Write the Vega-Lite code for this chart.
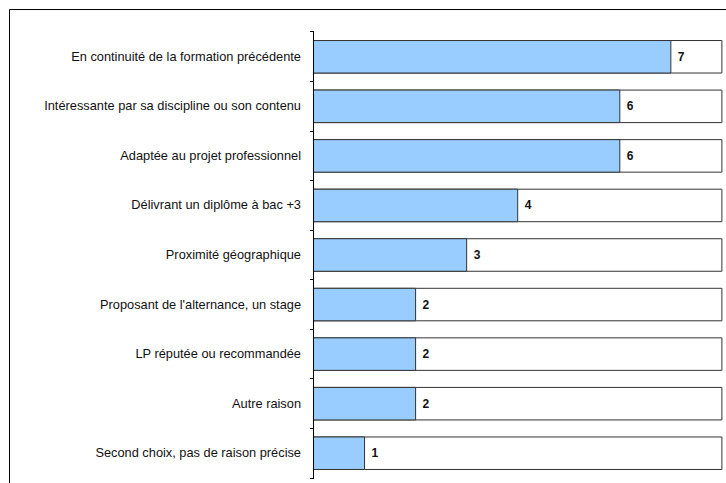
{
  "$schema": "https://vega.github.io/schema/vega-lite/v6.json",
  "width": 730,
  "height": 492,
  "autosize": {"type": "none"},
  "padding": {"left": 9, "top": 9, "right": 0, "bottom": 0},
  "background": "white",
  "config": {"view": {"stroke": "#000", "strokeWidth": 1}, "font": "Liberation Sans"},
  "data": {"values": [
    {"raison": "En continuité de la formation précédente", "value": 7},
    {"raison": "Intéressante par sa discipline ou son contenu", "value": 6},
    {"raison": "Adaptée au projet professionnel", "value": 6},
    {"raison": "Délivrant un diplôme à bac +3", "value": 4},
    {"raison": "Proximité géographique", "value": 3},
    {"raison": "Proposant de l'alternance, un stage", "value": 2},
    {"raison": "LP réputée ou recommandée", "value": 2},
    {"raison": "Autre raison", "value": 2},
    {"raison": "Second choix, pas de raison précise", "value": 1}
  ]},
  "encoding": {
    "y": {
      "field": "raison", "type": "nominal", "sort": null,
      "scale": {"paddingInner": 0, "paddingOuter": 0.464},
      "axis": {
        "title": null, "orient": "left", "offset": -304.5, "domain": false,
        "ticks": true, "bandPosition": 1, "tickExtra": true, "tickSize": 4,
        "tickColor": "#000", "labelPadding": 9, "labelFontSize": 12.8,
        "labelColor": "#111", "labelFont": "Liberation Sans", "labelLimit": 400, "grid": false
      }
    }
  },
  "layer": [
    {
      "mark": {"type": "bar", "fill": "white", "stroke": "#333", "strokeWidth": 1, "height": {"band": 0.656}},
      "encoding": {"x": {"datum": 8, "type": "quantitative", "scale": {"domain": [-5.965, 8.335], "nice": false, "zero": false}, "axis": null}}
    },
    {
      "mark": {"type": "bar", "fill": "#99CCFF", "stroke": "#333", "strokeWidth": 1, "height": {"band": 0.656}},
      "encoding": {"x": {"field": "value", "type": "quantitative", "scale": {"domain": [-5.965, 8.335], "nice": false, "zero": false}, "axis": null}}
    },
    {
      "mark": {"type": "text", "align": "left", "baseline": "middle", "dx": 7, "fontWeight": "bold", "fontSize": 12, "color": "#111", "font": "Liberation Sans"},
      "encoding": {
        "x": {"field": "value", "type": "quantitative", "scale": {"domain": [-5.965, 8.335], "nice": false, "zero": false}, "axis": null},
        "text": {"field": "value", "type": "quantitative"}
      }
    },
    {
      "mark": {"type": "bar", "fill": null, "stroke": "#000", "strokeWidth": 1, "height": {"band": 1}},
      "encoding": {
        "x": {"datum": 0, "type": "quantitative", "scale": {"domain": [-5.965, 8.335], "nice": false, "zero": false}, "axis": null},
        "x2": {"datum": 0}
      }
    }
  ]
}
